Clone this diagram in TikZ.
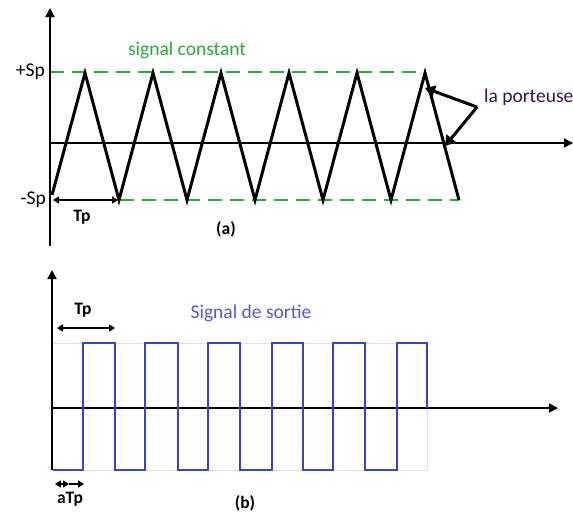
\documentclass[tikz,border=0pt]{standalone}
\usepackage{fontspec}
\setmainfont{Carlito}
\usetikzlibrary{arrows.meta}
\definecolor{sgreen}{RGB}{40,170,60}
\definecolor{sblue}{RGB}{60,65,205}
\definecolor{tblue}{RGB}{85,85,225}
\definecolor{tpurple}{RGB}{50,20,80}
\begin{document}
\begin{tikzpicture}[x=1pt,y=-1pt,
  axis/.style={line width=1.8pt,-{Triangle[length=9pt,width=9pt]}},
  tri/.style={line width=3pt,line join=miter},
  gdash/.style={sgreen,line width=2.2pt,dash pattern=on 14pt off 8pt},
  sq/.style={sblue,line width=2.8pt},
  faint/.style={black!12,line width=0.8pt},
  dim/.style={line width=2.2pt,{Triangle[length=6pt,width=7pt]}-{Triangle[length=6pt,width=7pt]}},
  lbl/.style={font=\fontsize{19.5}{22}\selectfont},
  blbl/.style={font=\fontsize{17.5}{20}\selectfont\bfseries},
  parrow/.style={line width=3pt,-{Triangle[length=10pt,width=12pt]}}]
\useasboundingbox (0,0) rectangle (573,515);

% ---------- panel (a) ----------
\coordinate (ay0) at (50,246);
\coordinate (ay1) at (50,8);
\coordinate (ax0) at (50,143);
\coordinate (ax1) at (573,143);
\draw[gdash] (50,72) -- (426,72);
\draw[gdash] (120,200) -- (459,200);
\draw[black!25,line width=0.8pt,dotted] (50,200) -- (120,200);
\draw[axis] (ay0) -- (ay1);
\draw[axis] (ax0) -- (ax1);
\draw[tri] (52,195) -- (85,73)
  \foreach \k in {0,...,4} { -- ({119+68*\k},200) -- ({153+68*\k},73) }
  -- (459,200);

\node[lbl,anchor=east,inner sep=1pt] (psp) at (46,72) {+Sp};
\node[lbl,anchor=east,inner sep=1pt] (msp) at (47,200) {-Sp};
\node[lbl,text=sgreen] (sc) at (187,50) {signal constant};
\coordinate (tpa0) at (53,200);
\coordinate (tpa1) at (118,200);
\draw[dim] (tpa0) -- (tpa1);
\node[blbl] (tpa) at (82,217) {Tp};
\node[blbl] (la) at (226,229) {(a)};

\node[lbl,text=tpurple,anchor=west,inner sep=1pt] (port) at (483,97) {la porteuse};
\coordinate (pv) at (477,107);
\coordinate (pt1) at (425,88);
\coordinate (pt2) at (445,146);
\draw[parrow] (pv) -- (pt1);
\draw[parrow] (pv) -- (pt2);

% ---------- panel (b) ----------
\coordinate (by0) at (52,470);
\coordinate (by1) at (52,270);
\coordinate (bx0) at (52,408);
\coordinate (bx1) at (558,408);
\draw[faint] (52,343) -- (427,343);
\draw[faint] (52,470) -- (427,470);
\draw[faint] (427,343) -- (427,470);
\draw[axis] (by0) -- (by1);
\draw[axis] (bx0) -- (bx1);
\draw[sq] (53,470) -- (83,470) -- (83,343) -- (115,343) -- (115,470)
  -- (145,470) -- (145,343) -- (178,343) -- (178,470)
  -- (208,470) -- (208,343) -- (240,343) -- (240,470)
  -- (272,470) -- (272,343) -- (303,343) -- (303,470)
  -- (333,470) -- (333,343) -- (365,343) -- (365,470)
  -- (397,470) -- (397,343) -- (427,343) -- (427,408);

\node[blbl] (tpb) at (83,310) {Tp};
\coordinate (tpb0) at (57,328);
\coordinate (tpb1) at (115,328);
\draw[dim] (tpb0) -- (tpb1);
\node[lbl,text=tblue] (sds) at (251,313) {Signal de sortie};
\coordinate (atp0) at (55,484);
\coordinate (atp1) at (84,484);
\draw[line width=2.2pt,{Triangle[length=6pt,width=7pt]}-{Triangle[length=6pt,width=7pt]}] (atp0) -- (69,484);
\draw[line width=2.2pt,-{Triangle[length=6pt,width=7pt]}] (69,484) -- (atp1);
\node[blbl] (atp) at (70,499) {aTp};
\node[blbl] (lb) at (245,503) {(b)};
\end{tikzpicture}
\end{document}
